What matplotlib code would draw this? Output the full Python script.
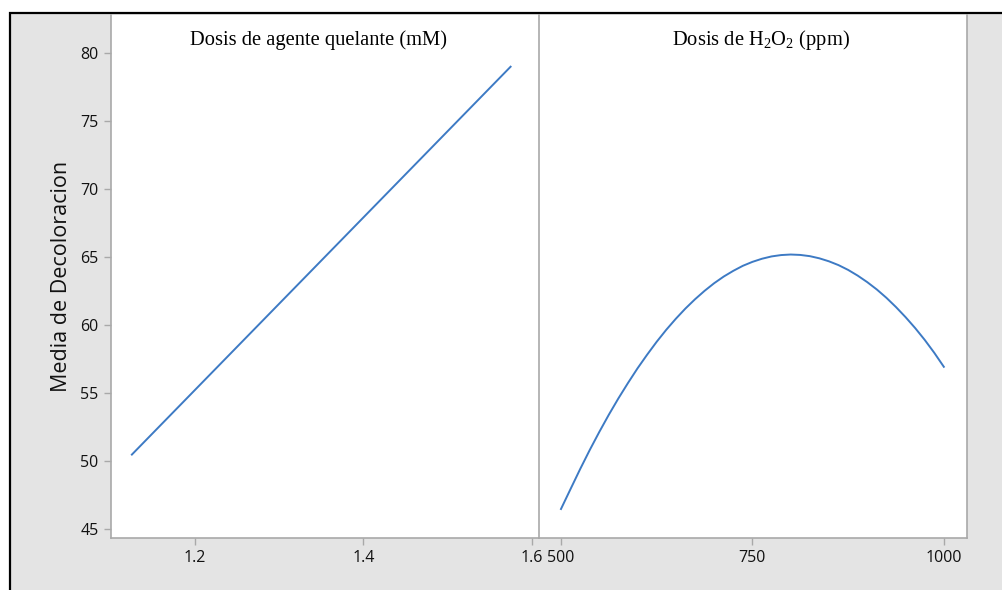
import matplotlib
matplotlib.use("Agg")
import matplotlib.pyplot as plt
from matplotlib.patches import Rectangle

# Data
quelante_x = [1.125, 1.575]
quelante_y = [50.5, 79.0]

h2o2_x = [500, 512.5, 525, 537.5, 550, 562.5, 575, 587.5, 600, 612.5, 625,
          637.5, 650, 662.5, 675, 687.5, 700, 712.5, 725, 737.5, 750, 762.5,
          775, 787.5, 800, 812.5, 825, 837.5, 850, 862.5, 875, 887.5, 900,
          912.5, 925, 937.5, 950, 962.5, 975, 987.5, 1000]
h2o2_y = [46.5, 47.97, 49.43, 50.83, 52.16, 53.43, 54.63, 55.76, 56.84, 57.84,
          58.79, 59.67, 60.48, 61.23, 61.91, 62.53, 63.09, 63.58, 64.00, 64.37,
          64.66, 64.89, 65.06, 65.16, 65.2, 65.17, 65.08, 64.92, 64.70, 64.42,
          64.07, 63.65, 63.17, 62.63, 62.02, 61.34, 60.60, 59.80, 58.93, 57.98,
          56.95]

y_ticks = [45, 50, 55, 60, 65, 70, 75, 80]
x1_ticks = [1.2, 1.4, 1.6]
x2_ticks = [500, 750, 1000]
titles = ["Dosis de agente quelante (mM)",
          r"Dosis de H$\mathregular{_2}$O$\mathregular{_2}$ (ppm)"]
ylabel = "Media de Decoloracion"

plt.rcParams["mathtext.fontset"] = "custom"
plt.rcParams["mathtext.rm"] = "Liberation Serif"

W, H = 1002, 590
fig = plt.figure(figsize=(W / 100, H / 100), dpi=100)
fig.patch.set_facecolor("white")

# gray background box with black border
bg = Rectangle((10 / W, -0.1), 1.2, 1.1 - 13 / H, transform=fig.transFigure,
               facecolor="#e4e4e4", edgecolor="black", linewidth=1.6, zorder=-10)
fig.patches.append(bg)

def fx(px):
    return px / W

def fy(py):
    return 1 - py / H

left1, div, right2 = 110.5, 538.7, 966.8
top, bottom = 15, 538
ax1 = fig.add_axes([fx(left1), fy(bottom), fx(div - left1), fy(top) - fy(bottom)])
ax2 = fig.add_axes([fx(div), fy(bottom), fx(right2 - div), fy(top) - fy(bottom)])

line_color = "#3d7ac4"
spine_color = "#a9a9a9"
tick_font = "Open Sans"

ax1.plot(quelante_x, quelante_y, color=line_color, lw=1.4)
ax2.plot(h2o2_x, h2o2_y, color=line_color, lw=1.4)

ylim = (44.37, 82.8)
ax1.set_ylim(*ylim)
ax2.set_ylim(*ylim)
ax1.set_xlim(1.0996, 1.6084)
ax2.set_xlim(470.9, 1030)

for ax in (ax1, ax2):
    ax.set_facecolor("white")
    ax.spines["top"].set_visible(False)
    for s in ("left", "right", "bottom"):
        ax.spines[s].set_color(spine_color)
        ax.spines[s].set_linewidth(1.2)
    ax.tick_params(axis="both", color=spine_color, length=5, width=1,
                   labelsize=11.5, labelcolor="#111111", direction="out")

ax1.spines["right"].set_visible(False)
ax1.set_yticks(y_ticks)
ax1.set_yticklabels([str(v) for v in y_ticks], fontfamily=tick_font)
ax1.set_xticks(x1_ticks)
ax1.set_xticklabels([f"{v:.1f}" for v in x1_ticks], fontfamily=tick_font)
ax1.tick_params(axis="x", pad=4)

ax2.set_yticks([])
ax2.set_xticks(x2_ticks)
ax2.set_xticklabels([str(v) for v in x2_ticks], fontfamily=tick_font)
ax2.tick_params(axis="x", pad=4)

title_x = [0.485, 0.52]
for ax, t, tx in zip((ax1, ax2), titles, title_x):
    ax.text(tx, 1 - 25 / (bottom - top), t, transform=ax.transAxes,
            ha="center", va="center", fontsize=14.8, family="Liberation Serif",
            color="black")

ax1.set_ylabel(ylabel, fontsize=15.5, fontfamily=tick_font, color="#111111",
               labelpad=6)

fig.savefig("out.png", dpi=100, facecolor="white")
